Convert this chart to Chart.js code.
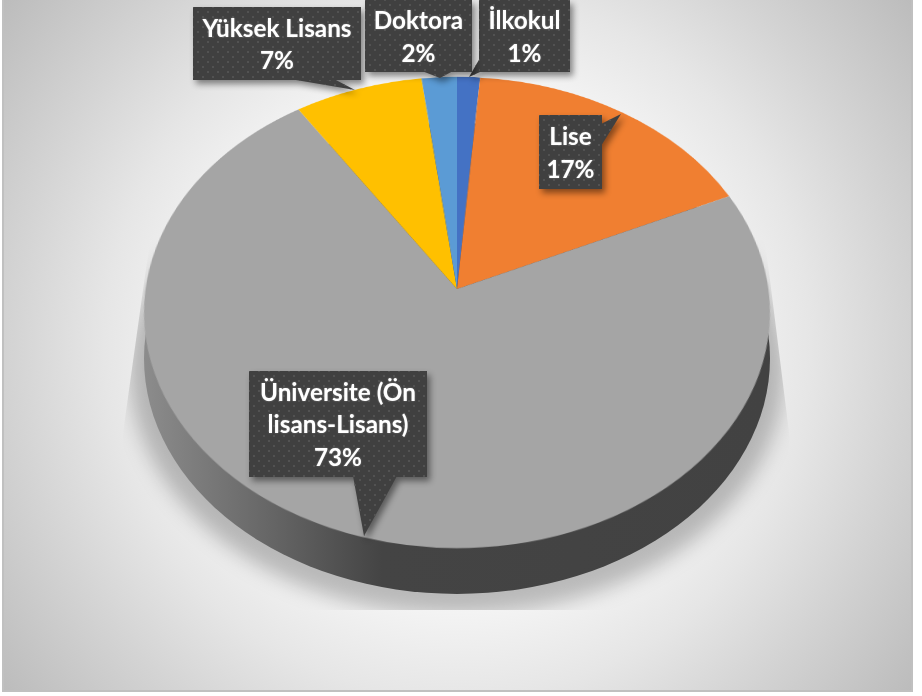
<!DOCTYPE html>
<html>
<head>
<meta charset="utf-8">
<script src="https://cdn.jsdelivr.net/npm/chart.js@4"></script>
<style>
html, body { margin: 0; padding: 0; width: 922px; height: 696px; overflow: hidden; background: #fff; }
#frame {
    position: absolute; left: 2px; top: -2px; width: 907px; height: 690px;
    border: 2px solid #c0c0c0; overflow: hidden;
    background: radial-gradient(circle farthest-corner at 50% 50%, #f8f8f8 0%, #f4f4f4 46%, #e6e6e6 62%, #d4d4d4 78%, #bcbcbc 100%);
}
.layer { position: absolute; left: -4px; top: 0; width: 922px; height: 696px; }
#shadowClip { clip-path: polygon(150px 240px, 765px 240px, 790px 440px, 772px 610px, 145px 610px, 122px 440px); }
#shadow {
    position: absolute; left: 130px; top: 125px; width: 654px; height: 490px; border-radius: 50%;
    background: rgba(0,0,0,0.24); filter: blur(10px);
}
#wall {
    position: absolute; left: 144px; top: 123px; width: 626px; height: 471px; border-radius: 50%;
    background: linear-gradient(to right, #8c8c8c 0%, #444 38%, #424242 100%);
}
#pieWrap {
    position: absolute; left: 133px; top: -31px; width: 640px; height: 640px;
    transform-origin: 50% 50%;
    transform: perspective(2067px) rotateX(41.5deg);
}
.callout { position: absolute; left: 0; top: 0; width: 922px; height: 696px; filter: drop-shadow(3px 4px 3px rgba(0,0,0,0.45)); }
.tail, .box {
    position: absolute; background-color: #404040;
    background-image: radial-gradient(circle, #525252 1px, transparent 1.4px), radial-gradient(circle, #525252 1px, transparent 1.4px);
    background-size: 10px 10px; background-position: 0 0, 5px 5px;
}
.tail { left: 0; top: 0; width: 922px; height: 696px; }
.box {
    display: flex; align-items: center; justify-content: center; text-align: center; box-sizing: border-box;
    padding-top: 1px;
    color: #fff; font: bold 24.3px/32.5px Lato, sans-serif; text-shadow: 0 0 2px rgba(255,255,255,0.35);
}
</style>
</head>
<body>
<div id="frame">
    <div class="layer" id="shadowClip"><div id="shadow"></div></div>
    <div class="layer"><div id="wall"></div></div>
    <div id="pieWrap"><canvas id="pie" width="640" height="640"></canvas></div>
    <div class="layer" id="callouts"></div>
</div>
<script>
const categories = ["İlkokul", "Lise", "Üniversite (Ön<br>lisans-Lisans)", "Yüksek Lisans", "Doktora"];
const shares = [1.3, 16.9, 72.5, 7.3, 2.0];
const colors = ["#4472c4", "#f07f31", "#a5a5a5", "#ffc000", "#5b9bd5"];

// callout boxes x, y, w, h and their pointers, same order as categories
const boxes = [
    [479, 0, 91, 72],
    [539, 115, 63, 74],
    [249, 371, 178, 106],
    [193, 7, 168, 73],
    [365, 0, 107, 72]
];
const tails = [
    [[480, 58], [480, 72], [469, 77]],
    [[601, 124], [621, 114], [601, 146]],
    [[353, 476], [397, 476], [364, 536]],
    [[290, 79], [334, 79], [355, 90]],
    [[422, 71], [453, 71], [440, 78]]
];

new Chart(document.getElementById("pie").getContext("2d"), {
    type: "pie",
    data: {
        labels: categories.map(c => c.replace("<br>", " ")),
        datasets: [{
            data: shares,
            backgroundColor: colors,
            borderWidth: 0
        }]
    },
    options: {
        responsive: false,
        animation: false,
        layout: { padding: 8.6 },
        plugins: { legend: { display: false }, tooltip: { enabled: false } }
    }
});

const total = shares.reduce((a, b) => a + b, 0);
const holder = document.getElementById("callouts");
categories.forEach((name, i) => {
    const wrap = document.createElement("div");
    wrap.className = "callout";
    const tail = document.createElement("div");
    tail.className = "tail";
    tail.style.clipPath = "polygon(" + tails[i].map(p => p[0] + "px " + p[1] + "px").join(",") + ")";
    const box = document.createElement("div");
    box.className = "box";
    const [x, y, w, h] = boxes[i];
    box.style.left = x + "px";
    box.style.top = y + "px";
    box.style.width = w + "px";
    box.style.height = h + "px";
    box.innerHTML = "<span>" + name + "<br>" + Math.round(shares[i] / total * 100) + "%</span>";
    wrap.appendChild(tail);
    wrap.appendChild(box);
    holder.appendChild(wrap);
});
</script>
</body>
</html>
